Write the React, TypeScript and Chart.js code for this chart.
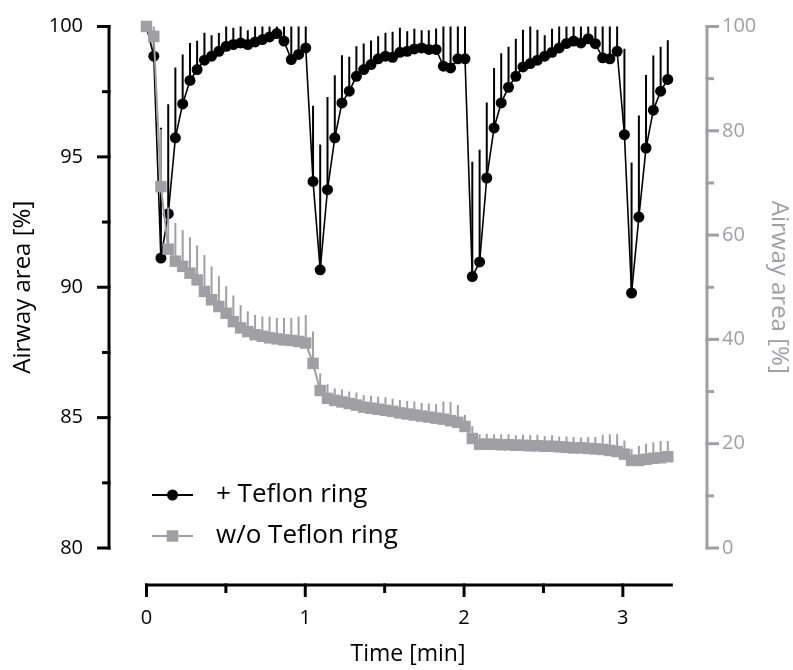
import React, { useEffect, useRef } from "react";
import { Chart, registerables } from "chart.js";

Chart.register(...registerables);

// ---- data ----
const TIME_MIN = [
  0, 0.046, 0.091, 0.137, 0.182, 0.228, 0.274, 0.319, 0.365, 0.41, 0.456, 0.502, 0.547, 0.593, 0.638,
  0.684, 0.73, 0.775, 0.821, 0.866, 0.912, 0.958, 1.003, 1.049, 1.094, 1.14, 1.186, 1.231, 1.277,
  1.322, 1.368, 1.414, 1.459, 1.505, 1.55, 1.596, 1.642, 1.687, 1.733, 1.778, 1.824, 1.87, 1.915,
  1.961, 2.006, 2.052, 2.098, 2.143, 2.189, 2.234, 2.28, 2.326, 2.371, 2.417, 2.462, 2.508, 2.554,
  2.599, 2.645, 2.69, 2.736, 2.782, 2.827, 2.873, 2.918, 2.964, 3.01, 3.055, 3.101, 3.146, 3.192,
  3.238, 3.283,
];

const WITH_RING = [
  100, 98.86, 91.12, 92.82, 95.73, 97.03, 97.93, 98.35, 98.71, 98.86, 99.05, 99.24, 99.31, 99.37, 99.31,
  99.41, 99.5, 99.6, 99.73, 99.44, 98.73, 98.93, 99.18, 94.06, 90.67, 93.74, 95.73, 97.07, 97.52,
  98.09, 98.35, 98.54, 98.76, 98.86, 98.82, 99.01, 99.05, 99.14, 99.18, 99.12, 99.12, 98.48, 98.41,
  98.76, 98.76, 90.41, 90.97, 94.19, 96.11, 97.07, 97.67, 98.09, 98.45, 98.58, 98.71, 98.86, 99.01,
  99.18, 99.35, 99.44, 99.37, 99.53, 99.34, 98.8, 98.76, 99.05, 95.85, 89.78, 92.69, 95.34, 96.79,
  97.52, 97.97,
];

const WITH_RING_SD = [
  0, 1.0, 5.0, 4.2, 2.7, 1.9, 1.44, 1.1, 1.05, 0.8, 0.7, 0.8, 0.64, 0.7, 0.55,
  0.6, 0.6, 0.5, 0.5, 0.8, 1.5, 1.2, 1.0, 2.9, 4.8, 3.56, 2.4, 1.83, 1.32,
  1.15, 1.0, 0.92, 0.87, 0.9, 0.98, 0.94, 0.77, 0.77, 0.68, 0.74, 0.8, 1.6, 1.7,
  1.3, 1.3, 4.4, 4.3, 2.9, 2.3, 1.9, 1.55, 1.44, 1.43, 1.5, 1.17, 0.8, 0.9,
  1.0, 0.8, 0.7, 0.8, 0.6, 0.8, 1.4, 1.4, 1.1, 3.3, 5.0, 3.9, 2.8, 2.1,
  1.7, 1.5,
];

const WITHOUT_RING = [
  100, 98.1, 69.3, 57.3, 55.0, 54.0, 52.7, 51.4, 49.2, 47.6, 46.3, 45.0, 43.4, 42.2, 41.5,
  40.9, 40.6, 40.3, 40.1, 39.9, 39.8, 39.6, 39.3, 35.4, 30.2, 28.7, 28.3, 28.0, 27.7,
  27.4, 27.0, 26.8, 26.6, 26.4, 26.2, 25.9, 25.7, 25.5, 25.3, 25.1, 24.9, 24.7, 24.4,
  24.1, 23.3, 21.0, 19.9, 19.9, 19.9, 19.8, 19.8, 19.7, 19.7, 19.6, 19.6, 19.5, 19.5,
  19.4, 19.3, 19.2, 19.2, 19.1, 19.0, 18.9, 18.7, 18.5, 18.0, 16.8, 16.8, 17.0, 17.2,
  17.3, 17.5,
];

const WITHOUT_RING_SD = [
  0, 2, 11, 8, 7.3, 7.0, 6.9, 6.6, 7.0, 6.4, 5.8, 5.2, 5.0, 4.4, 3.9,
  3.8, 3.8, 4.1, 4.0, 4.2, 4.3, 4.8, 5.4, 6.1, 3.3, 2.7, 2.3, 2.4, 2.3,
  2.4, 2.3, 2.4, 2.4, 2.5, 2.4, 2.5, 2.5, 2.6, 2.5, 2.6, 2.7, 3.4, 3.6,
  3.3, 2.2, 2.4, 1.9, 2.0, 1.9, 2.0, 2.0, 1.9, 2.0, 2.0, 2.1, 2.0, 2.1,
  2.0, 2.1, 2.1, 2.0, 2.2, 2.3, 2.8, 3.1, 3.3, 2.6, 2.2, 2.8, 3.0, 3.1,
  3.2, 3.0,
];

const SERIES_LABELS = ["+ Teflon ring", "w/o Teflon ring"];
const LEFT_TICKS = [80, 85, 90, 95, 100];
const LEFT_MINOR = [82.5, 87.5, 92.5, 97.5];
const RIGHT_TICKS = [0, 20, 40, 60, 80, 100];
const RIGHT_MINOR = [10, 30, 50, 70, 90];
const TIME_TICKS = [0, 1, 2, 3];
const TIME_MINOR = [0.5, 1.5, 2.5];
const TIME_AXIS_END = 3.315;
const Y_TITLE = "Airway area [%]";
const X_TITLE = "Time [min]";

// ---- style ----
const BLACK = "#000000";
const GRAY = "#a0a0a4";
const FONT = "'Open Sans', sans-serif";

const errorBarPlugin = {
  id: "errorBars",
  beforeDatasetDraw(chart: any, args: any) {
    const ds = chart.data.datasets[args.index];
    const sd: number[] | undefined = ds.sdValues;
    if (!sd) return;
    const yScale = chart.scales[ds.yAxisID];
    const { ctx, chartArea } = chart;
    ctx.save();
    ctx.beginPath();
    ctx.rect(chartArea.left, chartArea.top, chartArea.right - chartArea.left, chartArea.bottom - chartArea.top);
    ctx.clip();
    ctx.strokeStyle = ds.borderColor;
    ctx.lineWidth = 2;
    args.meta.data.forEach((el: any, i: number) => {
      const v = ds.data[i].y;
      if (!sd[i]) return;
      const top = yScale.getPixelForValue(v + sd[i]);
      ctx.beginPath();
      ctx.moveTo(el.x, el.y);
      ctx.lineTo(el.x, top);
      ctx.stroke();
    });
    ctx.restore();
  },
};

const axesPlugin = {
  id: "axesDecor",
  afterDraw(chart: any) {
    const { ctx, chartArea } = chart;
    const x = chart.scales.x;
    const yl = chart.scales.yLeft;
    const yr = chart.scales.yRight;
    ctx.save();
    ctx.lineCap = "butt";
    // left axis
    ctx.strokeStyle = BLACK;
    ctx.lineWidth = 3;
    const lx = chartArea.left;
    ctx.beginPath();
    ctx.moveTo(lx, yl.getPixelForValue(100) - 1.5);
    ctx.lineTo(lx, yl.getPixelForValue(80) + 1.5);
    ctx.stroke();
    LEFT_TICKS.forEach((v) => {
      const p = yl.getPixelForValue(v);
      ctx.beginPath();
      ctx.moveTo(lx - 12, p);
      ctx.lineTo(lx + 1.5, p);
      ctx.stroke();
    });
    LEFT_MINOR.forEach((v) => {
      const p = yl.getPixelForValue(v);
      ctx.beginPath();
      ctx.moveTo(lx - 7, p);
      ctx.lineTo(lx + 1.5, p);
      ctx.stroke();
    });
    // right axis
    ctx.strokeStyle = GRAY;
    const rx = chartArea.right;
    ctx.beginPath();
    ctx.moveTo(rx, yr.getPixelForValue(100) - 1.5);
    ctx.lineTo(rx, yr.getPixelForValue(0) + 1.5);
    ctx.stroke();
    RIGHT_TICKS.forEach((v) => {
      const p = yr.getPixelForValue(v);
      ctx.beginPath();
      ctx.moveTo(rx - 1.5, p);
      ctx.lineTo(rx + 12, p);
      ctx.stroke();
    });
    RIGHT_MINOR.forEach((v) => {
      const p = yr.getPixelForValue(v);
      ctx.beginPath();
      ctx.moveTo(rx - 1.5, p);
      ctx.lineTo(rx + 7, p);
      ctx.stroke();
    });
    // x axis (offset below plot)
    ctx.strokeStyle = BLACK;
    const ay = chartArea.bottom + 37;
    ctx.beginPath();
    ctx.moveTo(x.getPixelForValue(0) - 1.5, ay);
    ctx.lineTo(x.getPixelForValue(TIME_AXIS_END), ay);
    ctx.stroke();
    TIME_TICKS.forEach((v) => {
      const p = x.getPixelForValue(v);
      ctx.beginPath();
      ctx.moveTo(p, ay - 1.5);
      ctx.lineTo(p, ay + 12);
      ctx.stroke();
    });
    TIME_MINOR.forEach((v) => {
      const p = x.getPixelForValue(v);
      ctx.beginPath();
      ctx.moveTo(p, ay - 1.5);
      ctx.lineTo(p, ay + 8);
      ctx.stroke();
    });
    ctx.restore();
  },
};

const legendPlugin = {
  id: "insetLegend",
  afterDraw(chart: any) {
    const { ctx } = chart;
    const rows = [
      { label: SERIES_LABELS[0], color: BLACK, shape: "circle", y: 495 },
      { label: SERIES_LABELS[1], color: GRAY, shape: "rect", y: 536 },
    ];
    ctx.save();
    rows.forEach((r) => {
      ctx.strokeStyle = r.color;
      ctx.fillStyle = r.color;
      ctx.lineWidth = 2;
      ctx.beginPath();
      ctx.moveTo(152, r.y);
      ctx.lineTo(193, r.y);
      ctx.stroke();
      if (r.shape === "circle") {
        ctx.beginPath();
        ctx.arc(172.5, r.y, 5.5, 0, Math.PI * 2);
        ctx.fill();
      } else {
        ctx.fillRect(172.5 - 5.75, r.y - 5.75, 11.5, 11.5);
      }
      ctx.fillStyle = BLACK;
      ctx.font = `26px ${FONT}`;
      ctx.textAlign = "left";
      ctx.textBaseline = "middle";
      ctx.fillText(r.label, 216, r.y);
    });
    ctx.restore();
  },
};

const fixY = (width: number) => (s: any) => {
  s.width = width;
  s.paddingTop = 0;
  s.paddingBottom = 0;
};

export default function App() {
  const ref = useRef<HTMLCanvasElement | null>(null);

  useEffect(() => {
    if (!ref.current) return;
    Chart.defaults.font.family = FONT;
    const chart = new Chart(ref.current, {
      type: "line",
      data: {
        datasets: [
          {
            label: SERIES_LABELS[0],
            data: TIME_MIN.map((t, i) => ({ x: t, y: WITH_RING[i] })),
            sdValues: WITH_RING_SD,
            yAxisID: "yLeft",
            borderColor: BLACK,
            backgroundColor: BLACK,
            borderWidth: 1.6,
            pointRadius: 5.5,
            pointBorderWidth: 0,
            pointStyle: "circle",
            tension: 0,
            clip: false,
            order: 2,
          } as any,
          {
            label: SERIES_LABELS[1],
            data: TIME_MIN.map((t, i) => ({ x: t, y: WITHOUT_RING[i] })),
            sdValues: WITHOUT_RING_SD,
            yAxisID: "yRight",
            borderColor: GRAY,
            backgroundColor: GRAY,
            borderWidth: 2,
            pointRadius: 8.1,
            pointBorderWidth: 0,
            pointStyle: "rect",
            tension: 0,
            clip: false,
            order: 1,
          } as any,
        ],
      },
      options: {
        animation: false,
        responsive: false,
        events: [],
        layout: { padding: { top: 26.5, left: 0, right: 0, bottom: 0 } },
        plugins: { legend: { display: false }, tooltip: { enabled: false } },
        scales: {
          x: {
            type: "linear",
            min: -0.236,
            max: 3.53,
            grid: { display: false, drawTicks: false },
            border: { display: false },
            afterBuildTicks: (s: any) => {
              s.ticks = TIME_TICKS.map((v) => ({ value: v }));
            },
            ticks: {
              padding: 58,
              color: BLACK,
              font: { size: 20, family: FONT },
              maxRotation: 0,
              autoSkip: false,
              callback: (v: any) => String(v),
            },
            title: {
              display: true,
              text: X_TITLE,
              color: BLACK,
              font: { size: 23, family: FONT },
              padding: { top: 0, bottom: 2 },
            },
            afterFit: (s: any) => {
              s.height = 122;
              s.paddingLeft = 0;
              s.paddingRight = 0;
            },
          },
          yLeft: {
            type: "linear",
            position: "left",
            min: 80,
            max: 100,
            grid: { display: false, drawTicks: false },
            border: { display: false },
            afterBuildTicks: (s: any) => {
              s.ticks = LEFT_TICKS.map((v) => ({ value: v }));
            },
            ticks: { padding: 26, color: BLACK, font: { size: 20, family: FONT } },
            title: {
              display: true,
              text: Y_TITLE,
              color: BLACK,
              font: { size: 24, family: FONT },
              padding: { top: 9, bottom: 0 },
            },
            afterFit: fixY(109),
          },
          yRight: {
            type: "linear",
            position: "right",
            min: 0,
            max: 100,
            grid: { display: false, drawTicks: false },
            border: { display: false },
            afterBuildTicks: (s: any) => {
              s.ticks = RIGHT_TICKS.map((v) => ({ value: v }));
            },
            ticks: { padding: 15, color: GRAY, font: { size: 20, family: FONT } },
            title: {
              display: true,
              text: Y_TITLE,
              color: GRAY,
              font: { size: 24, family: FONT },
              padding: { top: 0, bottom: 0 },
            },
            afterFit: fixY(86),
          },
        },
      },
      plugins: [errorBarPlugin, axesPlugin, legendPlugin],
    } as any);
    return () => chart.destroy();
  }, []);

  return (
    <div style={{ position: "absolute", left: 0, top: 0, width: 793, height: 670, background: "#fff" }}>
      <canvas ref={ref} width={793} height={670} />
    </div>
  );
}
